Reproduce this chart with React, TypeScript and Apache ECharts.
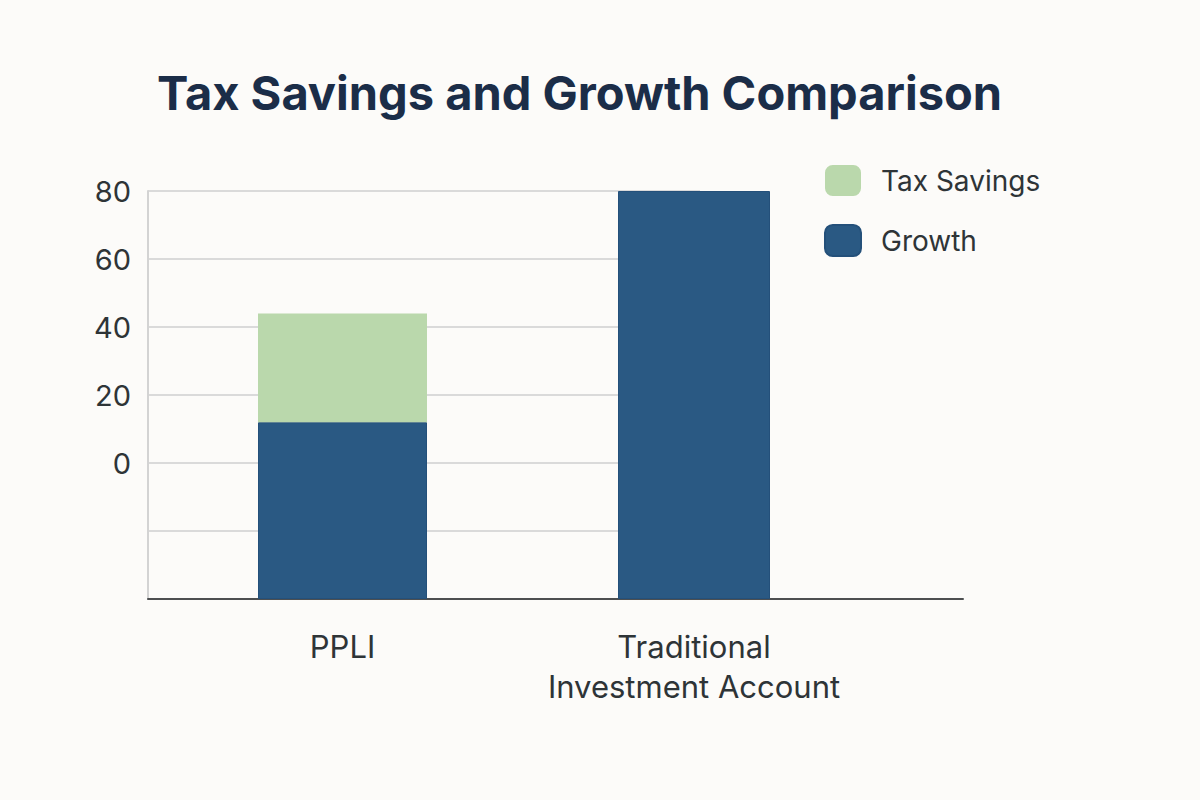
import React, { useEffect, useRef } from "react";
import * as echarts from "echarts";

const TITLE = "Tax Savings and Growth Comparison";
const CATEGORIES = ["PPLI", "Traditional\nInvestment Account"];
const GROWTH = [12, 80];
const TAX_SAVINGS = [32, 0];
const Y_MIN = -40;
const Y_MAX = 80;
const Y_STEP = 20;

const FONT = "Inter, 'Open Sans', 'Liberation Sans', sans-serif";
const BG = "#fcfbf9";
const C_GROWTH = "#2a5983";
const C_TAX = "#bad8ac";
const C_TEXT = "#2e3437";

// layout (pixels)
const FRAME = { left: 148, right: 237, top: 191, bottom: 201 };
const BAR_LEFT = [258, 618];
const BAR_WIDTH = [169, 152];
const GRIDLINE_RIGHT = 700;

export default function App() {
  const ref = useRef<HTMLDivElement>(null);
  useEffect(() => {
    if (!ref.current) return;
    const chart = echarts.init(ref.current, null, { renderer: "svg" });
    const span = Y_MAX - Y_MIN;
    const shift = (v: number) => v - Y_MIN;
    const yBase = {
      type: "value",
      min: 0,
      max: span,
      interval: Y_STEP,
    };
    const grids: any[] = [
      { ...FRAME },
      { left: FRAME.left, top: FRAME.top, bottom: FRAME.bottom, width: GRIDLINE_RIGHT - FRAME.left },
    ];
    const xAxes: any[] = [
      {
        gridIndex: 0,
        type: "category",
        data: [""],
        axisLine: { show: true, lineStyle: { color: "#4d4f50", width: 2 } },
        axisTick: { show: false },
        axisLabel: { show: false },
      },
      { gridIndex: 1, type: "category", data: [""], show: false },
    ];
    const yAxes: any[] = [
      {
        gridIndex: 0,
        ...yBase,
        axisLine: { show: true, lineStyle: { color: "#d3d3d3", width: 2 } },
        axisTick: { show: false },
        splitLine: { show: false },
        axisLabel: {
          fontFamily: FONT,
          fontSize: 29,
          color: C_TEXT,
          margin: 17,
          formatter: (v: number) => (v + Y_MIN >= 0 ? String(v + Y_MIN) : ""),
        },
      },
      {
        gridIndex: 1,
        ...yBase,
        axisLine: { show: false },
        axisTick: { show: false },
        axisLabel: { show: false },
        splitLine: { show: true, lineStyle: { color: "#dadada", width: 2 } },
      },
    ];
    const series: any[] = [];
    CATEGORIES.forEach((cat, i) => {
      const gi = i + 2;
      grids.push({ left: BAR_LEFT[i], width: BAR_WIDTH[i], top: FRAME.top, bottom: FRAME.bottom });
      xAxes.push({
        gridIndex: gi,
        type: "category",
        data: [cat],
        axisLine: { show: false },
        axisTick: { show: false },
        axisLabel: {
          fontFamily: FONT,
          fontSize: 31,
          lineHeight: 40,
          color: C_TEXT,
          margin: 27,
          interval: 0,
        },
      });
      yAxes.push({ gridIndex: gi, ...yBase, show: false, splitLine: { show: false } });
      series.push({
        name: "Growth",
        type: "bar",
        xAxisIndex: gi,
        yAxisIndex: gi,
        stack: "s" + i,
        barWidth: BAR_WIDTH[i],
        itemStyle: { color: C_GROWTH, borderColor: "#24507a", borderWidth: 1 },
        data: [shift(GROWTH[i])],
      });
      series.push({
        name: "Tax Savings",
        type: "bar",
        xAxisIndex: gi,
        yAxisIndex: gi,
        stack: "s" + i,
        barWidth: BAR_WIDTH[i],
        itemStyle: { color: C_TAX },
        data: [TAX_SAVINGS[i]],
      });
    });
    chart.setOption({
      animation: false,
      backgroundColor: BG,
      title: {
        text: TITLE,
        left: 152,
        top: 64,
        textStyle: { fontFamily: FONT, fontSize: 47, fontWeight: 700, color: "#1b2d48" },
      },
      legend: {
        data: ["Tax Savings", "Growth"],
        orient: "vertical",
        left: 824,
        top: 165,
        padding: 0,
        itemWidth: 36,
        itemHeight: 31,
        itemGap: 28,
        icon: "roundRect",
        textStyle: { fontFamily: FONT, fontSize: 28, color: C_TEXT, padding: [0, 0, 0, 15] },
      },
      grid: grids,
      xAxis: xAxes,
      yAxis: yAxes,
      series,
    });
    return () => chart.dispose();
  }, []);
  return (
    <div
      ref={ref}
      style={{ position: "fixed", left: 0, top: 0, width: 1200, height: 800, background: BG }}
    />
  );
}
